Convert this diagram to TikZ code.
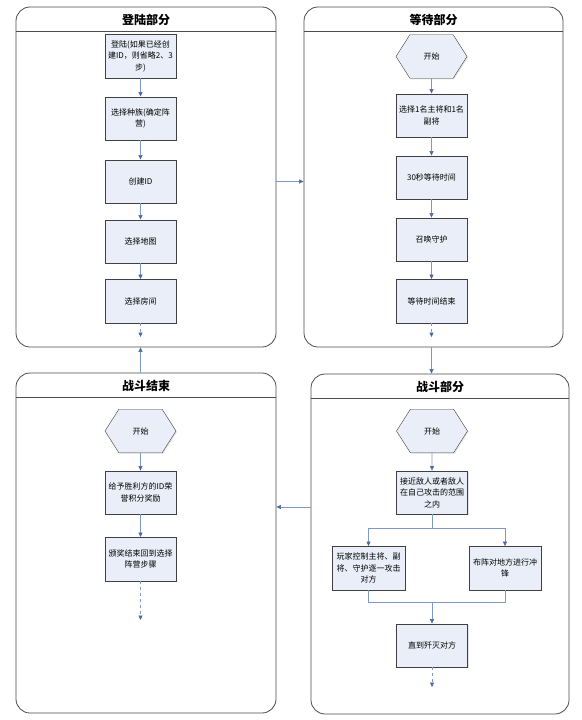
\documentclass[tikz,border=0pt]{standalone}
\usepackage{fontspec}
\setmainfont{Noto Sans CJK SC}
\usetikzlibrary{arrows.meta,shapes.symbols,shadows}
\definecolor{boxblue}{HTML}{E9EEF8}
\definecolor{lineblue}{HTML}{7E9AC4}
\definecolor{tipblue}{HTML}{4A6A9E}
\begin{document}
\begin{tikzpicture}[x=1pt,y=-1pt,
	panel/.style={draw=black!70,line width=0.8pt,rounded corners=14pt,minimum width=260pt,minimum height=340pt,fill=white},
	paneltitle/.style={font=\fontsize{12}{14}\selectfont\bfseries},
	stepbox/.style={draw=black!75,fill=boxblue,minimum width=71pt,minimum height=43.5pt,inner sep=1pt,align=center,
		font=\fontsize{8}{11.5}\selectfont,drop shadow={shadow xshift=1pt,shadow yshift=-1pt,opacity=0.2}},
	startbox/.style={stepbox,signal,signal to=west and east,signal pointer angle=115},
	flow/.style={draw=lineblue,line width=0.6pt,-{Triangle[width=4pt,length=4.5pt,color=tipblue]}}]
		\useasboundingbox (0,0) rectangle (581,720);
		\node[panel] (login) at (146,177) {};
		\node[panel,minimum width=259pt] (wait) at (433.5,177) {};
		\node[panel] (finish) at (146,543) {};
		\node[panel,minimum width=258pt] (battle) at (440,544) {};
		\foreach \p/\t in {login/登陆部分,wait/等待部分,finish/战斗结束,battle/战斗部分}{
			\draw[black!70,line width=0.8pt] ([yshift=-25pt]\p.north west) -- ([yshift=-25pt]\p.north east);
			\node[paneltitle] at ([yshift=-13pt]\p.north) {\t};
		}
		\node[stepbox] (l1) at (140.5,56) {登陆(如果已经创\\建ID，则省略2、3\\步)};
		\node[stepbox] (l2) at (140.5,118.5) {选择种族(确定阵\\营)};
		\node[stepbox] (l3) at (140.5,181.5) {创建ID};
		\node[stepbox] (l4) at (140.5,241.5) {选择地图};
		\node[stepbox] (l5) at (140.5,301) {选择房间};
		\coordinate (l6) at (140.5,337);
		\node[startbox] (w0) at (431.5,56.5) {开始};
		\node[stepbox] (w1) at (431.5,115.5) {选择1名主将和1名\\副将};
		\node[stepbox] (w2) at (431.5,177.5) {30秒等待时间};
		\node[stepbox] (w3) at (431.5,239.5) {召唤守护};
		\node[stepbox] (w4) at (431.5,301) {等待时间结束};
		\coordinate (w5) at (431.5,337);
		\node[startbox] (f0) at (140.5,431) {开始};
		\node[stepbox] (f1) at (140.5,492.5) {给予胜利方的ID荣\\誉积分奖励};
		\node[stepbox] (f2) at (140.5,559) {颁奖结束回到选择\\阵营步骤};
		\coordinate (f3) at (140.5,620);
		\node[startbox] (b0) at (432,431) {开始};
		\node[stepbox] (b1) at (432,492.5) {接近敌人或者敌人\\在自己攻击的范围\\之内};
		\node[stepbox,minimum width=73pt] (b2) at (368.5,568) {玩家控制主将、副\\将、守护逐一攻击\\对方};
		\node[stepbox,minimum width=72pt] (b3) at (505,568) {布阵对地方进行冲\\锋};
		\node[stepbox] (b4) at (432,645.5) {直到歼灭对方};
		\coordinate (b5) at (432,687);
		\foreach \a/\b in {l1/l2,l2/l3,l3/l4,l4/l5,w0/w1,w1/w2,w2/w3,w3/w4,f0/f1,f1/f2,b0/b1}
			\draw[flow] (\a) -- (\b);
		\foreach \a/\b in {l5/l6,w4/w5,f2/f3,b4/b5}
			\draw[flow,dashed] (\a) -- (\b);
		\draw[flow] (b1.south) -- ++(0,14) -| (b2.north);
		\draw[flow] (b1.south) -- ++(0,14) -| (b3.north);
		\coordinate (merge) at ([yshift=21pt]b4.north);
		\draw[lineblue,line width=0.6pt] (b2.south) |- (merge) -| (b3.south);
		\draw[flow] (merge) -- (b4.north);
		\coordinate (back) at (0,507);
		\draw[flow] (login.east |- l3) -- (wait.west |- l3);
		\draw[flow] (wait.south -| w4) -- (battle.north -| w4);
		\draw[flow] (battle.west |- back) -- (finish.east |- back);
		\draw[flow] (finish.north -| f1) -- (login.south -| f1);
\end{tikzpicture}
\end{document}
